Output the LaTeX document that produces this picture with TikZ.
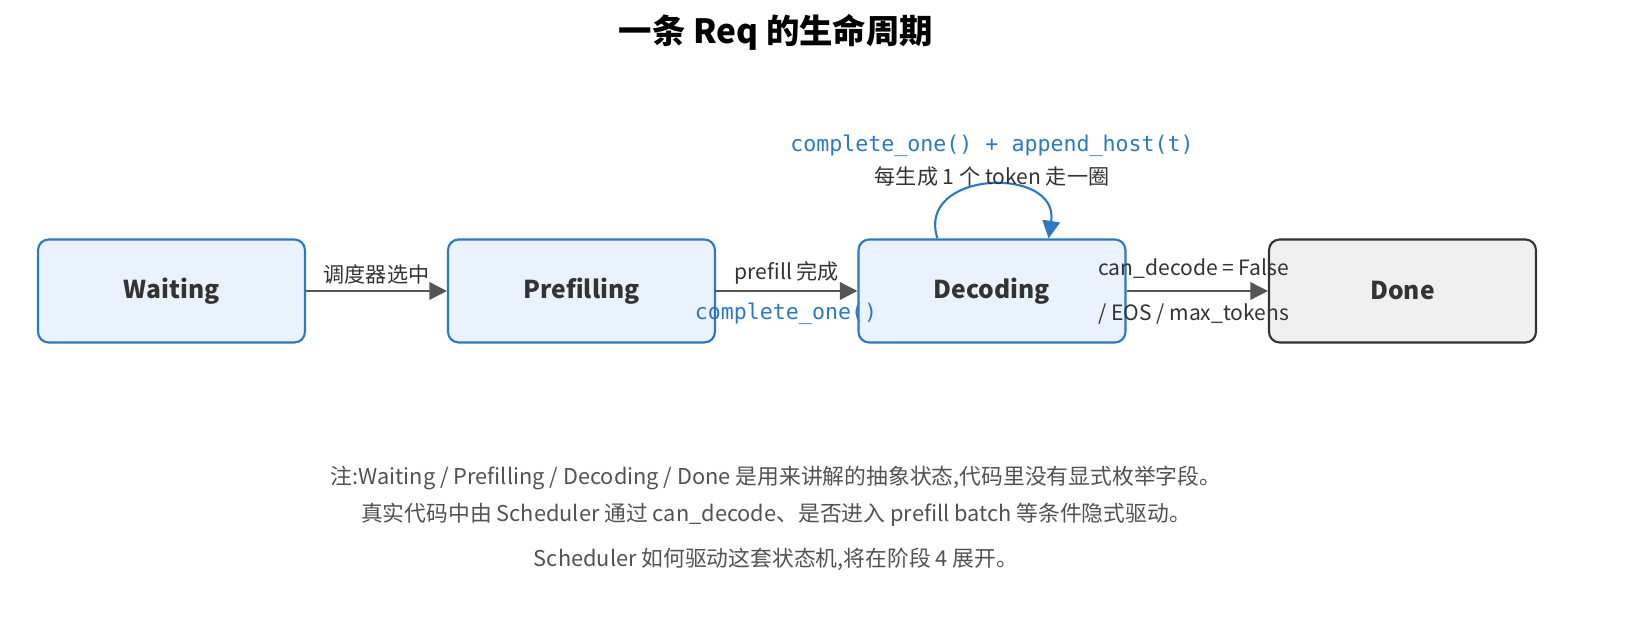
\documentclass[tikz,border=0pt]{standalone}
\usepackage{fontspec}
\setmainfont{Noto Sans CJK SC}
\setmonofont{DejaVu Sans Mono}
\usetikzlibrary{arrows.meta,positioning}
\definecolor{boxblue}{HTML}{2B78C5}
\definecolor{boxfill}{HTML}{EAF2FD}
\definecolor{txtgray}{HTML}{333333}
\definecolor{linegray}{HTML}{555555}
\begin{document}
\begin{tikzpicture}[x=0.02cm,y=-0.02cm]
            \tikzstyle{state}=[rectangle,rounded corners=6pt,minimum width=5.34cm,minimum height=2.06cm,font=\fontsize{14}{16}\selectfont\bfseries,draw,line width=1.2pt,text=txtgray]
            \tikzstyle{S}=[state,draw=boxblue,fill=boxfill]      % active state
            \tikzstyle{D}=[state,draw=txtgray,fill=black!6]     % final state
            \tikzstyle{link}=[font=\fontsize{12}{14}\selectfont,text=txtgray]
            \tikzstyle{code}=[font=\ttfamily\fontsize{12.3}{14}\selectfont,text=boxblue]
            \tikzstyle{note}=[font=\fontsize{12.4}{14}\selectfont,text=txtgray!85]
            \tikzstyle{every edge}=[draw=linegray,thick,-{Triangle[length=10pt,width=10pt]}]

            \useasboundingbox (0,0) rectangle (1634,638);

            \node[font=\fontsize{19}{21}\selectfont\bfseries] (title) at (776,32) {一条 Req 的生命周期};

            \node[S] (waiting) at (171.5,291) {Waiting};
            \node[S] (prefilling) at (581.5,291) {Prefilling};
            \node[S] (decoding) at (992,291) {Decoding};
            \node[D] (done) at (1402.5,291) {Done};

            \path (waiting) edge node[link,above] {调度器选中} (prefilling);
            \path (prefilling) edge node[link,above] {prefill 完成} (decoding);
            \path (decoding) edge (done);

            \node[code] (c1) at (786,314) {complete\_one()};
            \node[link,anchor=west] (c2) at (1092,269) {can\_decode = False};
            \node[link,anchor=west] (c3) at (1092,314) {/ EOS / max\_tokens};

            \draw[boxblue,line width=1.2pt,-{Triangle[length=10pt,width=10pt]}]
                (decoding.north west) ++(80,0) .. controls (915,170) and (1060,165) .. ([xshift=-1.56cm]decoding.north east);

            \node[code] (loop1) at (992,146) {complete\_one() + append\_host(t)};
            \node[link] (loop2) at (992,177) {每生成 1 个 token 走一圈};

            \node[note] (n1) at (776,478) {注:Waiting / Prefilling / Decoding / Done 是用来讲解的抽象状态,代码里没有显式枚举字段。};
            \node[note] (n2) at (776,515) {真实代码中由 Scheduler 通过 can\_decode、是否进入 prefill batch 等条件隐式驱动。};
            \node[note] (n3) at (776,559) {Scheduler 如何驱动这套状态机,将在阶段 4 展开。};
\end{tikzpicture}
\end{document}
